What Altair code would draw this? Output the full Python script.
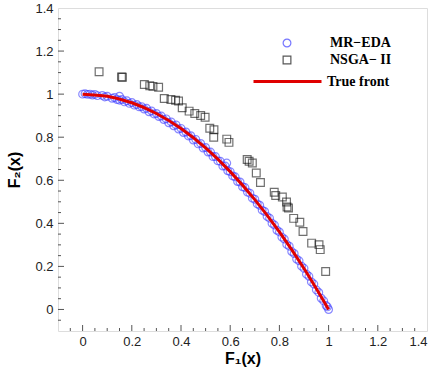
import altair as alt
import pandas as pd

# MR-EDA points
mr_f1 = [0.00, 0.01, 0.02, 0.03, 0.04, 0.05, 0.06, 0.08, 0.09, 0.10, 0.12, 0.13, 0.14, 0.15, 0.15,
         0.16, 0.17, 0.18, 0.19, 0.20, 0.21, 0.22, 0.23, 0.24, 0.25, 0.26, 0.27, 0.28, 0.29, 0.30,
         0.31, 0.32, 0.33, 0.34, 0.35, 0.36, 0.37, 0.38, 0.39, 0.40, 0.41, 0.42, 0.43, 0.44, 0.45,
         0.46, 0.47, 0.48, 0.49, 0.50, 0.51, 0.52, 0.53, 0.54, 0.55, 0.56, 0.57, 0.58, 0.586, 0.59,
         0.60, 0.61, 0.62, 0.63, 0.64, 0.65, 0.66, 0.67, 0.68, 0.69, 0.70, 0.71, 0.72, 0.73, 0.74,
         0.75, 0.76, 0.77, 0.78, 0.79, 0.80, 0.81, 0.82, 0.83, 0.84, 0.85, 0.86, 0.87, 0.88, 0.89,
         0.90, 0.91, 0.92, 0.93, 0.94, 0.95, 0.96, 0.97, 0.98, 0.99, 0.995, 1.00]
mr_f2 = [1.000, 1.002, 0.999, 1.000, 0.996, 0.999, 0.993, 0.994, 0.987, 0.990, 0.981, 0.984, 0.975, 0.972, 0.990,
         0.975, 0.964, 0.969, 0.957, 0.961, 0.949, 0.952, 0.941, 0.942, 0.931, 0.934, 0.918, 0.922, 0.908, 0.910,
         0.896, 0.898, 0.882, 0.885, 0.867, 0.871, 0.853, 0.857, 0.838, 0.841, 0.822, 0.824, 0.806, 0.807, 0.787,
         0.790, 0.769, 0.771, 0.750, 0.752, 0.731, 0.731, 0.710, 0.710, 0.690, 0.688, 0.666, 0.666, 0.680, 0.644,
         0.640, 0.620, 0.616, 0.594, 0.592, 0.570, 0.566, 0.545, 0.540, 0.517, 0.512, 0.490, 0.484, 0.461, 0.455,
         0.432, 0.424, 0.400, 0.392, 0.368, 0.360, 0.336, 0.327, 0.302, 0.294, 0.269, 0.260, 0.234, 0.226, 0.201,
         0.191, 0.164, 0.154, 0.128, 0.118, 0.091, 0.079, 0.052, 0.040, 0.018, 0.012, 0.000]

# NSGA-II points
ns_f1 = [0.067, 0.158, 0.162, 0.251, 0.273, 0.286, 0.309, 0.332, 0.359, 0.378, 0.390, 0.405, 0.433, 0.456,
         0.480, 0.498, 0.517, 0.534, 0.533, 0.586, 0.595, 0.669, 0.677, 0.690, 0.706, 0.723, 0.779, 0.785,
         0.812, 0.829, 0.831, 0.837, 0.858, 0.883, 0.896, 0.931, 0.961, 0.966, 0.988]
ns_f2 = [1.104, 1.080, 1.078, 1.045, 1.039, 1.036, 1.032, 0.980, 0.975, 0.972, 0.968, 0.937, 0.921, 0.910,
         0.901, 0.893, 0.842, 0.835, 0.800, 0.791, 0.776, 0.696, 0.688, 0.680, 0.634, 0.590, 0.544, 0.529,
         0.522, 0.499, 0.476, 0.471, 0.423, 0.405, 0.362, 0.308, 0.301, 0.278, 0.176]

# True front
tf_f1 = [0.0, 0.1, 0.2, 0.3, 0.4, 0.5, 0.6, 0.7, 0.8, 0.9, 1.0]
tf_f2 = [1.0, 0.99, 0.96, 0.91, 0.84, 0.75, 0.64, 0.51, 0.36, 0.19, 0.0]

major_ticks = [0, 0.2, 0.4, 0.6, 0.8, 1.0, 1.2]
minor_ticks = [-0.05, 0.05, 0.1, 0.15, 0.25, 0.3, 0.35, 0.45, 0.5, 0.55, 0.65, 0.7, 0.75,
               0.85, 0.9, 0.95, 1.05, 1.1, 1.15, 1.25, 1.3, 1.35]
label_ticks = [0, 0.2, 0.4, 0.6, 0.8, 1.0, 1.2, 1.4]

series_names = ["MR\u2212EDA", "NSGA\u2212 II"]
line_name = "True front"

W, H = 369, 323

pts = pd.DataFrame({
    "f1": mr_f1 + ns_f1,
    "f2": mr_f2 + ns_f2,
    "series": [series_names[0]] * len(mr_f1) + [series_names[1]] * len(ns_f1),
})
tf = pd.DataFrame({"f1": tf_f1, "f2": tf_f2, "curve": [line_name] * len(tf_f1)})
maj = pd.DataFrame({"v": major_ticks})
mnr = pd.DataFrame({"v": minor_ticks})

xscale = alt.Scale(domain=[-0.1, 1.4], nice=False, zero=False)
yscale = alt.Scale(domain=[-0.1, 1.4], nice=False, zero=False)

axis_common = dict(
    labelFont="Liberation Sans", labelFontSize=13, labelColor="#222",
    titleFont="Liberation Sans", titleFontSize=16, titleFontWeight="bold", titleColor="black",
    ticks=False, tickSize=0, domain=False, grid=False, values=label_ticks, format=".1~f",
)

x_axis = alt.Axis(orient="bottom", labelPadding=4, title="F\u2081(x)", titlePadding=2, **axis_common)
y_axis = alt.Axis(orient="left", labelPadding=5, title="F\u2082(x)", titlePadding=12, **axis_common)

leg_font = dict(labelFont="Liberation Serif", labelFontWeight="bold", labelFontSize=14,
                labelColor="black", title=None, padding=0)

pt_legend = alt.Legend(orient="none", legendX=222, legendY=28, symbolSize=60,
                       symbolStrokeWidth=1.2, labelOffset=36, rowPadding=3, **leg_font)
ln_legend = alt.Legend(orient="none", legendX=194, legendY=38, symbolType="stroke",
                       symbolSize=4624, symbolStrokeWidth=3, labelOffset=4, **leg_font)

points = alt.Chart(pts).mark_point(filled=False, size=60, strokeWidth=1.2, strokeOpacity=0.85).encode(
    x=alt.X("f1:Q", scale=xscale, axis=x_axis),
    y=alt.Y("f2:Q", scale=yscale, axis=y_axis),
    color=alt.Color("series:N", scale=alt.Scale(domain=series_names, range=["#3d3dff", "#111111"]),
                    legend=pt_legend),
    shape=alt.Shape("series:N", scale=alt.Scale(domain=series_names, range=["circle", "square"]),
                    legend=pt_legend),
)

line = alt.Chart(tf).mark_line(strokeWidth=3, interpolate="monotone").encode(
    x=alt.X("f1:Q", scale=xscale),
    y=alt.Y("f2:Q", scale=yscale),
    color=alt.Color("curve:N", scale=alt.Scale(domain=[line_name], range=["#e00000"]),
                    legend=ln_legend),
)

tick_color = "#555"
xmaj = alt.Chart(maj).mark_rule(color=tick_color, strokeWidth=1).encode(
    x=alt.X("v:Q", scale=xscale), y=alt.value(H), y2=alt.value(H - 6))
xmin = alt.Chart(mnr).mark_rule(color=tick_color, strokeWidth=1).encode(
    x=alt.X("v:Q", scale=xscale), y=alt.value(H), y2=alt.value(H - 3))
ymaj = alt.Chart(maj).mark_rule(color=tick_color, strokeWidth=1).encode(
    y=alt.Y("v:Q", scale=yscale), x=alt.value(0), x2=alt.value(6))
ymin = alt.Chart(mnr).mark_rule(color=tick_color, strokeWidth=1).encode(
    y=alt.Y("v:Q", scale=yscale), x=alt.value(0), x2=alt.value(3))

chart = alt.layer(points, line, xmaj, xmin, ymaj, ymin).resolve_scale(
    color="independent", shape="independent"
).properties(
    width=W, height=H,
    autosize=alt.AutoSizeParams(type="none"),
    padding={"left": 58, "top": 8, "right": 10, "bottom": 47},
).configure_view(
    stroke="#555", strokeWidth=1.5
).configure(background="white")

chart.save("out.html", embed_options={"renderer": "svg", "actions": False})
